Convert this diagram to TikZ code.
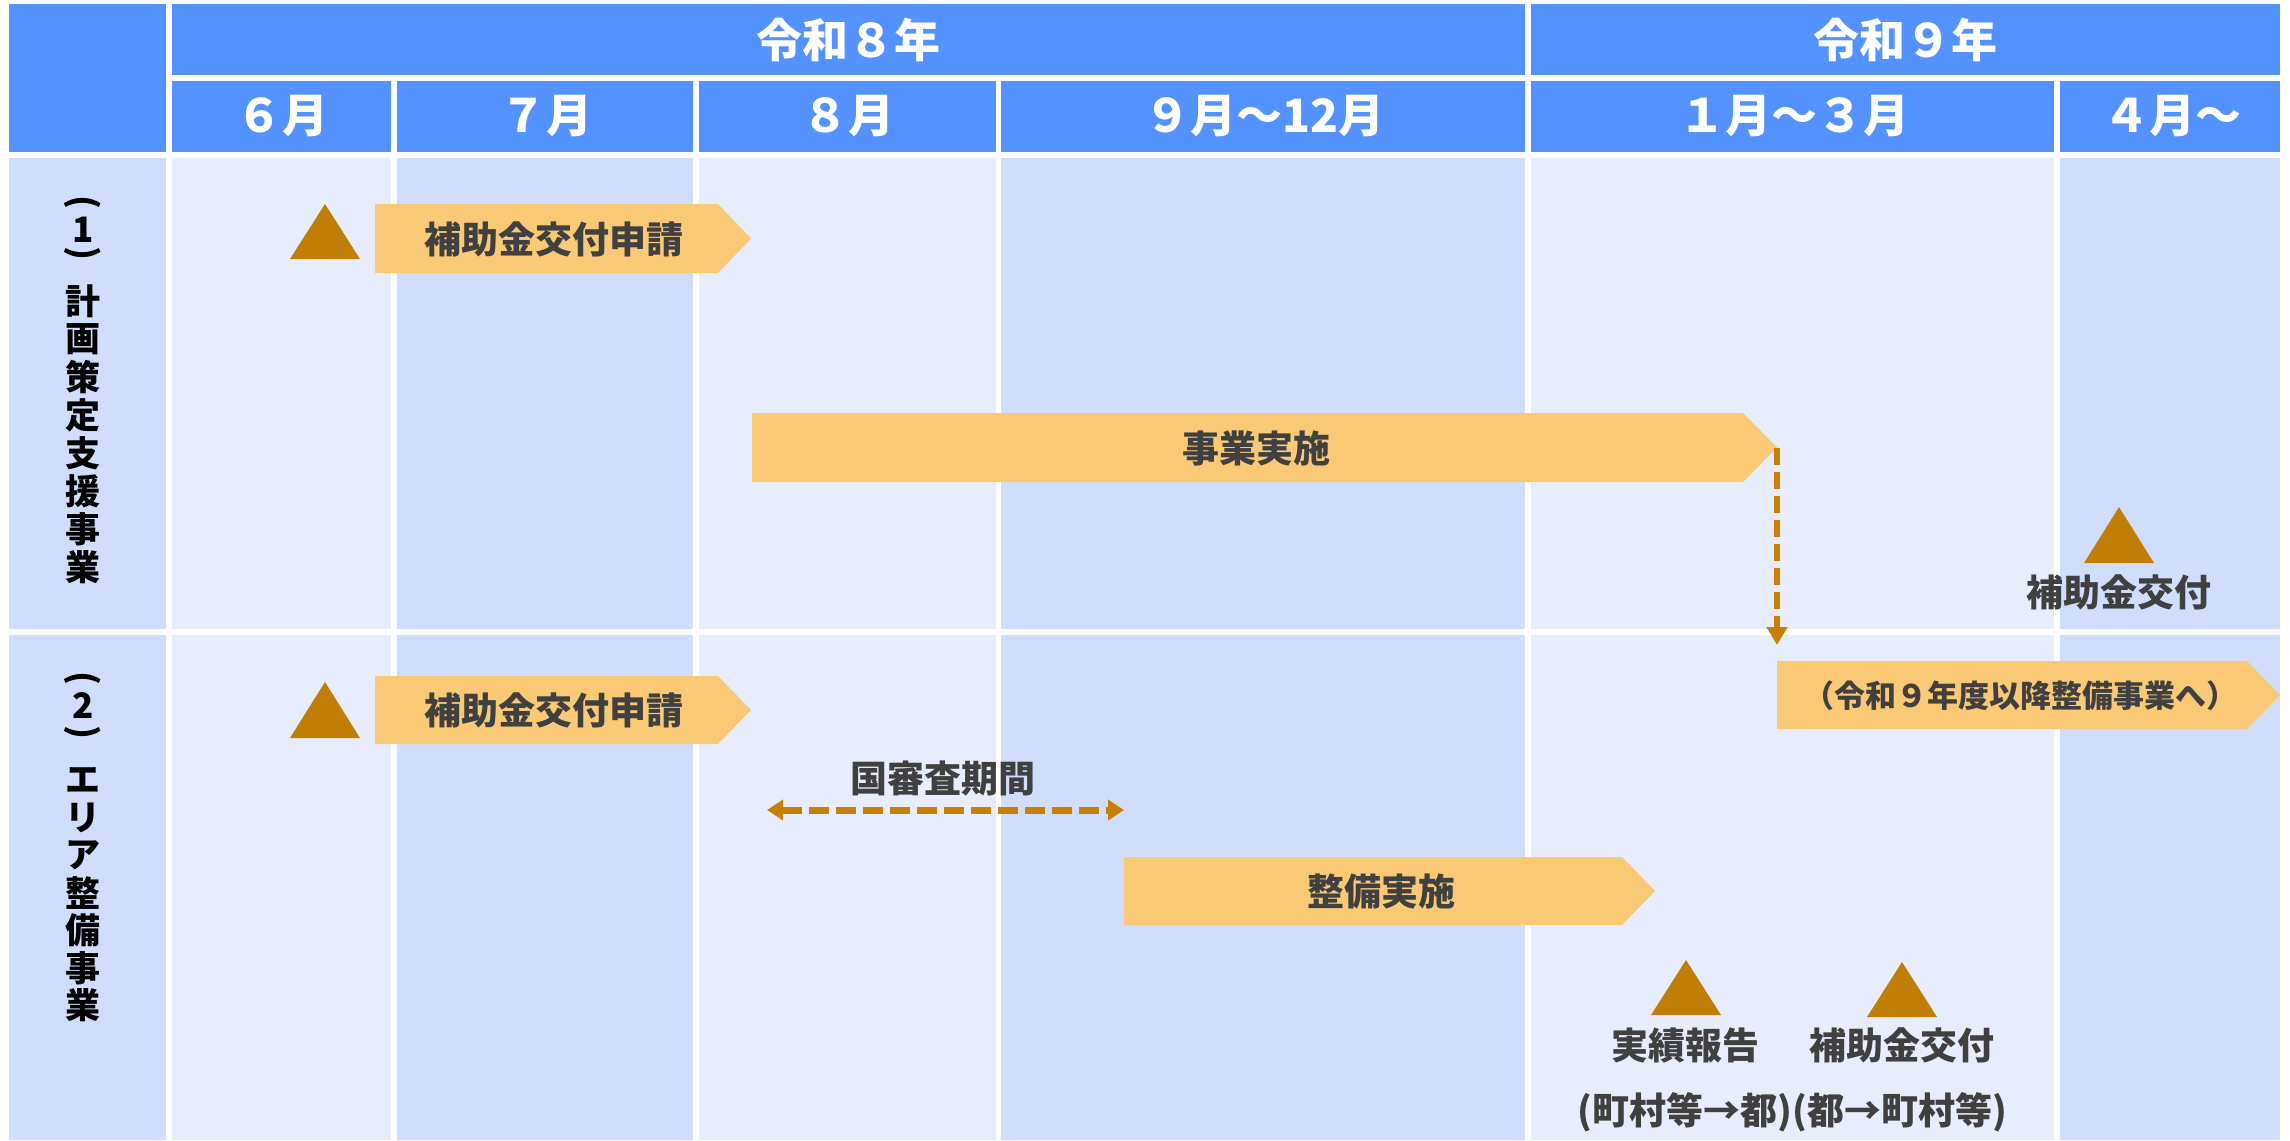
\documentclass[tikz,border=0pt]{standalone}
\usepackage{fontspec}
\setmainfont{Noto Sans CJK JP}
\usetikzlibrary{arrows.meta}
\definecolor{hdr}{RGB}{83,146,255}
\definecolor{cellA}{RGB}{231,237,252}
\definecolor{cellB}{RGB}{208,221,252}
\definecolor{barc}{RGB}{249,201,117}
\definecolor{tric}{RGB}{192,126,6}
\definecolor{txtc}{RGB}{64,64,64}
\definecolor{dashc}{RGB}{197,128,5}
\newcommand{\tria}[3]{\fill[tric] ({#1-35},#3) -- (#1,#2) -- ({#1+35},#3) -- cycle;}
\newcommand{\chev}[6]{% name, xleft, xtipstart, xtip, ytop, ybottom
  \fill[barc] (#2,#5) -- (#3,#5) -- (#4,{(#5+#6)/2}) -- (#3,#6) -- (#2,#6) -- cycle;
  \coordinate (#1-tip) at (#4,{(#5+#6)/2});
  \coordinate (#1-nw) at (#2,#5);
  \coordinate (#1-w) at (#2,{(#5+#6)/2});
}
\begin{document}
\begin{tikzpicture}[x=1pt,y=-1pt,
  hdrtxt/.style={text=white, font=\fontsize{46}{50}\selectfont\bfseries, inner sep=0pt},
  bartxt/.style={text=txtc, font=\fontsize{37}{40}\selectfont\bfseries, inner sep=0pt},
  smalltxt/.style={text=txtc, font=\fontsize{31}{34}\selectfont\bfseries, inner sep=0pt},
  vtxt/.style={text=black, font=\fontsize{35}{37}\selectfont\bfseries, inner sep=0pt},
  vparen/.style={text=black, font=\fontsize{35}{37}\selectfont\bfseries, inner sep=0pt, rotate=-90},
  dashdown/.style={draw=dashc, line width=6pt, dash pattern=on 17pt off 7pt, -{Triangle[length=18pt,width=20pt]}},
  dashboth/.style={draw=dashc, line width=7pt, dash pattern=on 20pt off 7pt, {Triangle[length=16pt,width=20pt]}-{Triangle[length=16pt,width=20pt]}}
]
\fill[white] (0,0) rectangle (2290,1140);
\useasboundingbox (0,0) rectangle (2290,1140);
% header
\fill[hdr] (9,4) rectangle (166,152);
\fill[hdr] (172,4) rectangle (1525,75);
\fill[hdr] (1531,4) rectangle (2280,75);
\fill[cellB] (9,158) rectangle (166,629);
\fill[cellB] (9,635) rectangle (166,1140);
\foreach \a/\b/\c in {172/391/cellA,397/693/cellB,699/996/cellA,1001/1525/cellB,1531/2054/cellA,2060/2280/cellB}{
  \fill[hdr] (\a,81) rectangle (\b,152);
  \fill[\c] (\a,158) rectangle (\b,629);
  \fill[\c] (\a,635) rectangle (\b,1140);
}
\node[hdrtxt] (y8) at (848,40) {令和８年};
\node[hdrtxt] (y9) at (1905,40) {令和９年};
\node[hdrtxt] (m6) at (282,116) {６月};
\node[hdrtxt] (m7) at (546,116) {７月};
\node[hdrtxt] (m8) at (848,116) {８月};
\node[hdrtxt] (m9) at (1264,116) {９月～12月};
\node[hdrtxt] (m1) at (1794,116) {１月～３月};
\node[hdrtxt] (m4) at (2172,116) {４月～};
% vertical labels
\node[vparen] (pa1) at (83,202) {(};
\node[vtxt] (n1) at (83,230) {1};
\node[vparen] (pb1) at (83,253) {)};
\foreach \ch [count=\i] in {計,画,策,定,支,援,事,業}{
  \node[vtxt] (s1c\i) at (83,{301+38*(\i-1)}) {\ch};
}
\node[vparen] (pa2) at (83,678) {(};
\node[vtxt] (n2) at (83,706) {2};
\node[vparen] (pb2) at (83,732) {)};
\foreach \ch [count=\i] in {エ,リ,ア,整,備,事,業}{
  \node[vtxt] (s2c\i) at (83,{780+37.6*(\i-1)}) {\ch};
}
% bars
\chev{b1}{375}{718}{751}{204}{273}
\chev{b2}{752}{1743}{1777}{413}{482}
\chev{b3}{375}{718}{751}{676}{744}
\chev{b4}{1777}{2247}{2280}{661}{729}
\chev{b5}{1124}{1622}{1655}{857}{925}
\node[bartxt] (t1) at (554,239) {補助金交付申請};
\node[bartxt] (t2) at (1256,448) {事業実施};
\node[bartxt] (t3) at (554,710) {補助金交付申請};
\node[smalltxt] (t4) at (2020,696) {（令和９年度以降整備事業へ）};
\node[bartxt] (t5) at (1381,892) {整備実施};
% triangles
\tria{325}{204}{259}
\tria{325}{682}{738}
\tria{2119}{507}{563}
\tria{1686}{960}{1015}
\tria{1902}{962}{1017}
% labels
\node[bartxt] (l1) at (2119,592) {補助金交付};
\node[bartxt] (l2) at (943,778) {国審査期間};
\node[bartxt] (l3) at (1685,1045) {実績報告};
\node[bartxt] (l4) at (1902,1045) {補助金交付};
\node[bartxt, anchor=east] (l5) at (1792,1112) {(町村等→都)};
\node[bartxt, anchor=west] (l6) at (1792,1112) {(都→町村等)};
% connectors
\coordinate (rv1) at (767,810);
\coordinate (rv2) at (b5-w |- rv1);
\draw[dashdown] (b2-tip) -- ([yshift=16pt]b4-nw);
\draw[dashboth] (rv1) -- (rv2);
\end{tikzpicture}
\end{document}
